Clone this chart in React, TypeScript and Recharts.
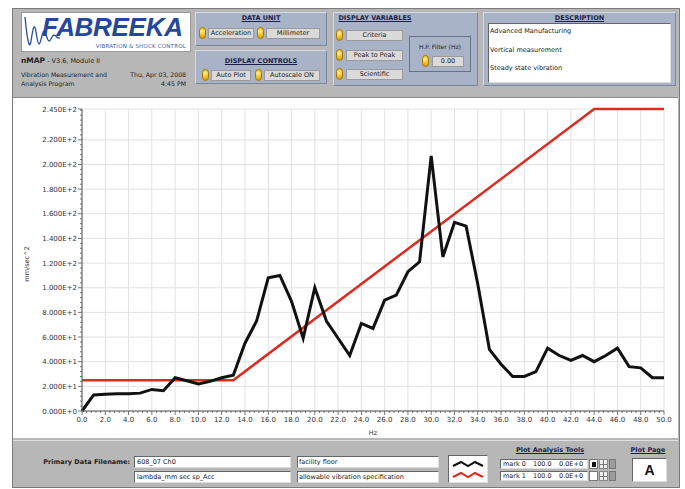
import React from 'react';
import { LineChart, Line, XAxis, YAxis, CartesianGrid, Label } from 'recharts';

// measured spectrum, one point per Hz
const freqHz = [
  0, 1, 2, 3, 4, 5, 6, 7, 8, 9, 10, 11, 12, 13, 14, 15, 16, 17, 18, 19, 20, 21, 22, 23, 24, 25,
  26, 27, 28, 29, 30, 31, 32, 33, 34, 35, 36, 37, 38, 39, 40, 41, 42, 43, 44, 45, 46, 47, 48, 49, 50,
];
const accelValues = [
  0, 13, 13.5, 14, 14, 14.5, 17.5, 16.5, 27, 24.5, 22, 24, 27, 29, 55, 73, 108, 110, 89, 59, 100,
  73, 59, 45, 71, 67, 90, 94, 113, 121, 207, 125, 153, 150, 103, 50, 38, 28, 28, 32, 51, 45, 41, 45,
  40, 45, 51, 36, 35, 27, 27,
];

// allowable vibration specification
const criteriaHz = [0, 13, 44, 50];
const criteriaValues = [25, 25, 245, 245];

const xMajorTicks = [0, 2, 4, 6, 8, 10, 12, 14, 16, 18, 20, 22, 24, 26, 28, 30, 32, 34, 36, 38, 40, 42, 44, 46, 48, 50];
const yMajorTicks = [0, 20, 40, 60, 80, 100, 120, 140, 160, 180, 200, 220, 245];

const measured = freqHz.map((hz, i) => ({ hz, acc: accelValues[i] }));
const criteria = criteriaHz.map((hz, i) => ({ hz, acc: criteriaValues[i] }));

const xTicks: number[] = [];
xMajorTicks.forEach((t, i) => {
  if (i > 0) {
    for (let k = 1; k < 5; k++) xTicks.push(+(xMajorTicks[i - 1] + k * 0.4).toFixed(1));
  }
  xTicks.push(t);
});
const yTicks: number[] = [];
for (let v = 0; v < 245; v += 4) yTicks.push(v);
yMajorTicks.forEach((t) => { if (!yTicks.includes(t)) yTicks.push(t); });
yTicks.sort((a, b) => a - b);

const FONT = '"DejaVu Sans", Verdana, sans-serif';
const PANEL = '#b7b7b7';
const BLUE = '#a9b3c7';

const fmtY = (v: number) => v.toExponential(3).toUpperCase();

const YTick = (props: any) => {
  const { x, y, payload } = props;
  const major = yMajorTicks.includes(payload.value);
  return (
    <g>
      <line x1={x - (major ? 4 : 2)} x2={x} y1={y} y2={y} stroke="#555" strokeWidth={0.8} />
      {major && (
        <text x={x - 5} y={y + 2.5} textAnchor="end" fontSize={7} fill="#333" fontFamily={FONT}>
          {fmtY(payload.value)}
        </text>
      )}
    </g>
  );
};

const XTick = (props: any) => {
  const { x, y, payload } = props;
  const major = xMajorTicks.includes(payload.value);
  return (
    <g>
      <line x1={x} x2={x} y1={y} y2={y + (major ? 4 : 2)} stroke="#555" strokeWidth={0.8} />
      {major && (
        <text x={x} y={y + 11} textAnchor="middle" fontSize={7} fill="#333" fontFamily={FONT}>
          {payload.value.toFixed(1)}
        </text>
      )}
    </g>
  );
};

const Toggle = ({ left, top }: { left: number; top: number }) => (
  <div
    style={{
      position: 'absolute', left, top, width: 7, height: 12, borderRadius: 4,
      background: 'radial-gradient(circle at 40% 35%, #fff2a0 0%, #f2c62a 45%, #c99400 100%)',
      border: '1px solid #a87800', boxSizing: 'border-box',
    }}
  />
);

const Btn = ({ left, top, width, text }: { left: number; top: number; width: number; text: string }) => (
  <div
    style={{
      position: 'absolute', left, top, width, height: 11, background: '#dadada',
      border: '1px solid #9a9a9a', boxSizing: 'border-box', fontSize: 6.5, lineHeight: '9px',
      textAlign: 'center', color: '#222',
    }}
  >
    {text}
  </div>
);

const Title = ({ left, top, width, text }: { left: number; top: number; width: number; text: string }) => (
  <div
    style={{
      position: 'absolute', left, top, width, textAlign: 'center', fontSize: 6.5, fontWeight: 'bold',
      textDecoration: 'underline', color: '#1c1f4a',
    }}
  >
    {text}
  </div>
);

const Box = ({ left, top, width, height, children, style }: any) => (
  <div
    style={{
      position: 'absolute', left, top, width, height, background: '#fff', boxSizing: 'border-box',
      borderTop: '1px solid #666', borderLeft: '1px solid #666', borderRight: '1px solid #ddd',
      borderBottom: '1px solid #ddd', fontSize: 6.5, color: '#222', ...style,
    }}
  >
    {children}
  </div>
);

const Panel = ({ left, top, width, height }: any) => (
  <div
    style={{
      position: 'absolute', left, top, width, height, background: BLUE, boxSizing: 'border-box',
      borderTop: '1px solid #d4dae6', borderLeft: '1px solid #d4dae6', borderRight: '1px solid #7d879b',
      borderBottom: '1px solid #7d879b',
    }}
  />
);

export default function App() {
  return (
    <div style={{ position: 'absolute', left: 0, top: 0, width: 685, height: 489, background: '#fff', fontFamily: FONT, overflow: 'hidden' }}>
      {/* outer frame */}
      <div style={{ position: 'absolute', left: 12, top: 8, width: 668, height: 480, background: PANEL, border: '1px solid #7b7b7b', boxSizing: 'border-box' }} />

      {/* logo */}
      <div style={{ position: 'absolute', left: 21, top: 12, width: 170, height: 40, background: '#fff', border: '1px solid #9a9a9a', boxSizing: 'border-box', overflow: 'hidden' }}>
        <svg width={40} height={38} style={{ position: 'absolute', left: 0, top: 0 }}>
          <path
            d="M3 4 C4 14 5 26 7 31 C9 36 10 16 12 14 C14 12 15 31 17 31 C19 31 20 18 22 18 C24 18 25 28 27 28 C29 28 30 22 32 22 C34 22 35 26 38 25"
            fill="none" stroke="#2c4f9e" strokeWidth={1.3}
          />
        </svg>
        <div style={{ position: 'absolute', left: 20, top: 1, lineHeight: '26px', fontFamily: '"Liberation Sans", Arial, sans-serif', fontWeight: 900, fontStyle: 'italic', fontSize: 26, color: '#22479c', letterSpacing: -0.3, whiteSpace: 'nowrap' }}>
          FABREEKA
        </div>
        <div style={{ position: 'absolute', right: 4, top: 30, fontSize: 5.5, color: '#3a5aa8', letterSpacing: 0.2, whiteSpace: 'nowrap' }}>
          VIBRATION &amp; SHOCK CONTROL
        </div>
      </div>

      <div style={{ position: 'absolute', left: 21, top: 56, fontSize: 6.5, color: '#222' }}>
        <b style={{ fontSize: 7.5 }}>nMAP</b> - V3.6, Module II
      </div>
      <div style={{ position: 'absolute', left: 21, top: 70, fontSize: 6.2, color: '#222', lineHeight: '9px' }}>
        Vibration Measurement and<br />Analysis Program
      </div>
      <div style={{ position: 'absolute', left: 110, width: 76, top: 70, fontSize: 6.2, color: '#222', lineHeight: '9px', textAlign: 'right' }}>
        Thu, Apr 03, 2008<br />4:45 PM
      </div>

      {/* data unit */}
      <Panel left={195} top={12} width={132} height={34} />
      <Title left={195} top={14} width={132} text="DATA UNIT" />
      <Toggle left={199} top={27} />
      <Btn left={208} top={28} width={46} text="Acceleration" />
      <Toggle left={257} top={27} />
      <Btn left={266} top={28} width={54} text="Millimeter" />

      {/* display controls */}
      <Panel left={195} top={50} width={132} height={34} />
      <Title left={195} top={57} width={132} text="DISPLAY CONTROLS" />
      <Toggle left={202} top={69} />
      <Btn left={211} top={70} width={40} text="Auto Plot" />
      <Toggle left={255} top={69} />
      <Btn left={264} top={70} width={56} text="Autoscale ON" />

      {/* display variables */}
      <Panel left={333} top={12} width={145} height={74} />
      <Title left={333} top={14} width={84} text="DISPLAY VARIABLES" />
      <Toggle left={336} top={29} />
      <Btn left={346} top={30} width={57} text="Criteria" />
      <Toggle left={336} top={49} />
      <Btn left={346} top={50} width={57} text="Peak to Peak" />
      <Toggle left={336} top={68} />
      <Btn left={346} top={69} width={57} text="Scientific" />
      <div style={{ position: 'absolute', left: 409, top: 36, width: 62, height: 36, border: '1px solid #66708a', boxSizing: 'border-box' }} />
      <div style={{ position: 'absolute', left: 409, top: 43, width: 62, textAlign: 'center', fontSize: 6, color: '#222' }}>H.P. Filter (Hz)</div>
      <Toggle left={422} top={55} />
      <Btn left={432} top={56} width={32} text="0.00" />

      {/* description */}
      <Panel left={483} top={12} width={193} height={74} />
      <Title left={483} top={14} width={193} text="DESCRIPTION" />
      <Box left={488} top={23} width={183} height={60}>
        <div style={{ position: 'absolute', left: 1, top: 3 }}>Advanced Manufacturing</div>
        <div style={{ position: 'absolute', left: 1, top: 22 }}>Vertical measurement</div>
        <div style={{ position: 'absolute', left: 1, top: 40 }}>Steady state vibration</div>
      </Box>

      {/* chart area */}
      <div style={{ position: 'absolute', left: 13, top: 97, width: 665, height: 341, background: '#fff', borderTop: '1px solid #8c8c8c', boxSizing: 'border-box' }} />
      <div style={{ position: 'absolute', left: 13, top: 97 }}>
        <LineChart width={665} height={341} margin={{ top: 12, right: 14, left: 0, bottom: 0 }}>
          <CartesianGrid stroke="#e2e2e2" horizontalValues={yMajorTicks} verticalValues={xMajorTicks} />
          <XAxis
            type="number" dataKey="hz" domain={[0, 50]} ticks={xTicks} interval={0} height={27}
            tickLine={false} tickSize={0} tickMargin={0} tick={<XTick />} stroke="#555" allowDuplicatedCategory={false}
          >
            <Label value="Hz" position="insideBottom" offset={3} fontSize={6.5} fill="#333" fontFamily={FONT} />
          </XAxis>
          <YAxis
            type="number" domain={[0, 245]} ticks={yTicks} interval={0} width={69}
            tickLine={false} tickSize={0} tickMargin={0} tick={<YTick />} stroke="#555"
          >
            <Label
              content={({ viewBox }: any) => (
                <text
                  x={viewBox.x + 16} y={viewBox.y + viewBox.height / 2 + 4} textAnchor="middle"
                  fontSize={6.5} fill="#333" fontFamily={FONT}
                  transform={`rotate(-90 ${viewBox.x + 16} ${viewBox.y + viewBox.height / 2 + 4})`}
                >
                  mm/sec^2
                </text>
              )}
            />
          </YAxis>
          <Line data={criteria} dataKey="acc" type="linear" stroke="#e02a20" strokeWidth={2.5} dot={false} isAnimationActive={false} />
          <Line data={measured} dataKey="acc" type="linear" stroke="#111" strokeWidth={3} dot={false} strokeLinejoin="miter" isAnimationActive={false} />
        </LineChart>
      </div>

      {/* bottom panel */}
      <div style={{ position: 'absolute', left: 13, top: 440, width: 665, height: 1, background: '#e0e0e0' }} />
      <div style={{ position: 'absolute', left: 20, width: 110, top: 458, fontSize: 6.5, fontWeight: 'bold', textAlign: 'right', color: '#222' }}>
        Primary Data Filename:
      </div>
      <Box left={134} top={456} width={157} height={12}><span style={{ position: 'absolute', left: 2, top: 1 }}>608_07 Ch0</span></Box>
      <Box left={134} top={471} width={157} height={12}><span style={{ position: 'absolute', left: 2, top: 1 }}>lambda_mm sec sp_Acc</span></Box>
      <Box left={297} top={456} width={142} height={12}><span style={{ position: 'absolute', left: 1, top: 1 }}>facility floor</span></Box>
      <Box left={297} top={471} width={142} height={12}><span style={{ position: 'absolute', left: 1, top: 1 }}>allowable vibration specification</span></Box>

      <Box left={448} top={455} width={40} height={28}>
        <svg width={38} height={26} style={{ position: 'absolute', left: 0, top: 0 }}>
          <polyline points="4,10 12,6 19,10 26,6 34,10" fill="none" stroke="#111" strokeWidth={2} />
          <polyline points="4,21 12,17 19,21 26,17 34,21" fill="none" stroke="#e02a20" strokeWidth={2} />
        </svg>
      </Box>

      <Title left={500} top={446} width={100} text="Plot Analysis Tools" />
      {['mark 0', 'mark 1'].map((m, i) => (
        <React.Fragment key={m}>
          <Box left={500} top={459 + i * 12} width={88} height={10}>
            <span style={{ position: 'absolute', left: 2, top: 0 }}>{m}</span>
            <span style={{ position: 'absolute', left: 32, top: 0 }}>100.0</span>
            <span style={{ position: 'absolute', left: 58, top: 0 }}>0.0E+0</span>
          </Box>
          <div style={{ position: 'absolute', left: 589, top: 459 + i * 12, width: 9, height: 10, background: '#fff', border: '1px solid #777', boxSizing: 'border-box' }}>
            {i === 0 && <div style={{ position: 'absolute', left: 1.5, top: 1.5, width: 4, height: 5, background: '#111' }} />}
          </div>
          <div style={{ position: 'absolute', left: 599, top: 459 + i * 12, width: 9, height: 10, background: '#eee', border: '1px solid #888', boxSizing: 'border-box' }}>
            <div style={{ position: 'absolute', left: 3, top: 0, width: 1, height: 8, background: '#777' }} />
            <div style={{ position: 'absolute', left: 0, top: 4, width: 7, height: 1, background: '#777' }} />
          </div>
          <div style={{ position: 'absolute', left: 609, top: 459 + i * 12, width: 7, height: 10, background: '#9c9c9c', border: '1px solid #777', boxSizing: 'border-box' }} />
        </React.Fragment>
      ))}

      <Title left={620} top={446} width={56} text="Plot Page" />
      <Box left={632} top={458} width={35} height={24}>
        <div style={{ position: 'absolute', left: 0, width: 33, top: 3, textAlign: 'center', fontSize: 14, fontWeight: 'bold', color: '#111', fontFamily: '"Liberation Sans", Arial, sans-serif' }}>A</div>
      </Box>
    </div>
  );
}
